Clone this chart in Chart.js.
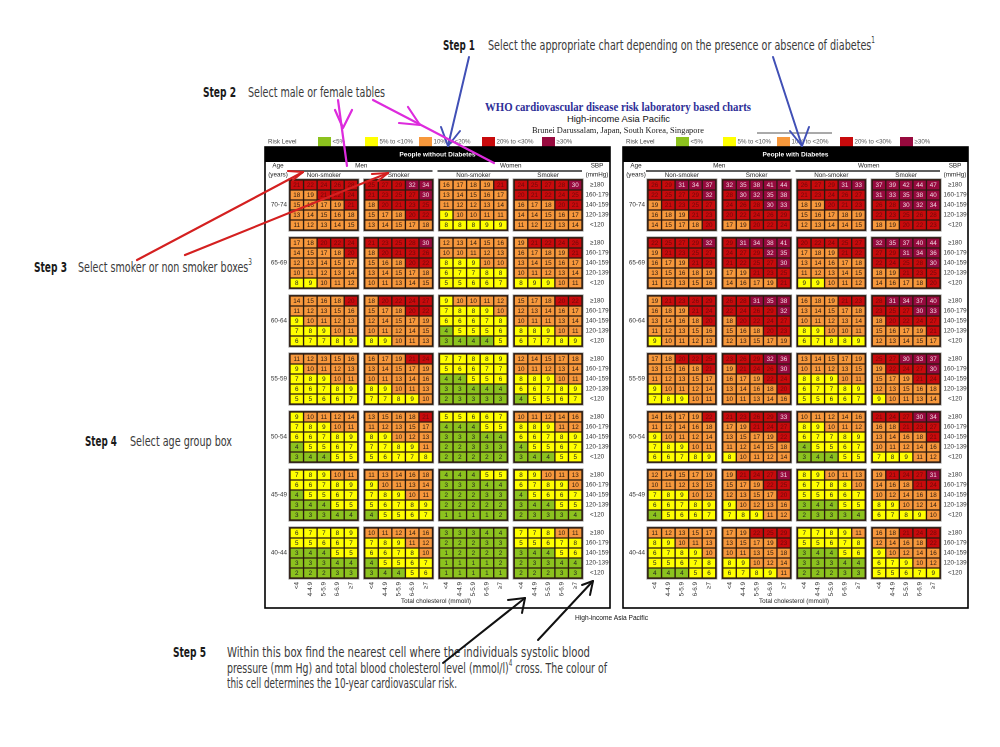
<!DOCTYPE html>
<html><head><meta charset="utf-8">
<script src="https://cdn.jsdelivr.net/npm/chart.js@4.4.1/dist/chart.umd.min.js"></script>
<style>
html,body{margin:0;padding:0;background:#fff;width:1000px;height:747px;overflow:hidden;position:relative}
canvas.panel{position:absolute;top:133px}
#c1{left:260px}
#c2{left:618px}
.t{position:absolute;white-space:nowrap;transform-origin:0 50%;color:#333}
.t sup{font-size:60%;vertical-align:top;line-height:1}
svg{position:absolute;left:0;top:0}
</style></head><body>
<canvas id="c1" class="panel" width="356" height="482"></canvas>
<canvas id="c2" class="panel" width="356" height="482"></canvas>
<div id="notes"></div>
<svg id="arrows" width="1000" height="747"></svg>
<script>
// ---------- categories / labels ----------
const ageGroups = ["70-74","65-69","60-64","55-59","50-54","45-49","40-44"];
const sbpLabels = ["≥180","160-179","140-159","120-139","<120"];
const cholLabels = ["<4","4-4.9","5-5.9","6-6.9","≥7"];
const groupNames = ["Non-smoker","Smoker","Non-smoker","Smoker"];
const sexNames = ["Men","Women"];
const riskLabels = ["<5%","5% to <10%","10% to <20%","20% to <30%","≥30%"];
const riskColors = ["#8cc21e","#ffff00","#f7983c","#c80a0c","#970a3e"];
const riskText = ["#222","#222","#2a1a10","#6e0a0a","#f2dce6"];

// ---------- People without diabetes (10-year risk %) ----------
// each: age groups (70-74 ... 40-44), rows SBP ≥180 ... <120, cols cholesterol <4 ... ≥7
const noDiabMenNonSmoker = [
 [[21,22,24,26,28],[18,19,21,22,24],[15,16,17,19,21],[13,14,15,16,18],[11,12,13,14,15]],
 [[17,18,20,22,24],[14,15,17,18,20],[12,13,14,15,17],[10,11,12,13,14],[8,9,10,11,12]],
 [[14,15,16,18,20],[11,12,13,15,16],[9,10,11,12,13],[7,8,9,10,11],[6,7,7,8,9]],
 [[11,12,13,15,16],[9,10,11,12,13],[7,8,9,10,11],[6,6,7,8,9],[5,5,6,6,7]],
 [[9,10,11,12,14],[7,8,9,10,11],[6,6,7,8,9],[4,5,5,6,7],[3,4,4,5,5]],
 [[7,8,9,10,11],[6,6,7,8,9],[4,5,5,6,7],[3,4,4,5,5],[3,3,3,4,4]],
 [[6,7,7,8,9],[5,5,6,6,7],[3,4,4,5,5],[3,3,3,4,4],[2,2,2,3,3]]
];
const noDiabMenSmoker = [
 [[25,27,29,32,34],[21,23,25,27,30],[18,20,21,23,25],[15,17,18,20,22],[13,14,15,17,18]],
 [[21,23,25,28,30],[18,20,21,23,26],[15,16,18,20,22],[13,14,15,17,18],[10,11,13,14,15]],
 [[18,20,22,24,27],[15,17,18,20,22],[12,14,15,17,19],[10,11,12,14,15],[8,9,10,11,13]],
 [[16,17,19,21,24],[13,14,15,17,19],[10,11,13,14,16],[8,9,10,11,13],[7,7,8,9,10]],
 [[13,15,16,18,21],[11,12,13,15,17],[8,9,10,12,13],[7,7,8,9,11],[5,6,7,7,8]],
 [[11,13,14,16,18],[9,10,11,13,14],[7,8,9,10,11],[5,6,7,8,9],[4,5,5,6,7]],
 [[10,11,12,14,16],[7,8,9,11,12],[6,6,7,8,10],[4,5,5,6,7],[3,4,4,5,6]]
];
const noDiabWomenNonSmoker = [
 [[16,17,18,19,21],[13,14,15,16,17],[11,12,12,13,14],[9,10,10,11,11],[8,8,8,9,9]],
 [[12,13,14,15,16],[10,10,11,12,13],[8,8,9,10,10],[6,7,7,8,8],[5,5,6,6,7]],
 [[9,10,10,11,12],[7,8,8,9,10],[6,6,6,7,8],[4,5,5,5,6],[3,4,4,4,5]],
 [[7,7,8,8,9],[5,6,6,7,7],[4,4,5,5,6],[3,3,4,4,4],[2,3,3,3,3]],
 [[5,5,6,6,7],[4,4,4,5,5],[3,3,3,4,4],[2,2,3,3,3],[2,2,2,2,2]],
 [[4,4,4,5,5],[3,3,3,4,4],[2,2,2,3,3],[2,2,2,2,2],[1,1,1,1,2]],
 [[3,3,3,4,4],[2,2,2,3,3],[1,2,2,2,2],[1,1,1,1,2],[1,1,1,1,1]]
];
const noDiabWomenSmoker = [
 [[24,25,27,28,30],[20,21,22,24,25],[16,17,18,20,21],[14,14,15,16,17],[11,12,12,13,14]],
 [[19,21,22,24,26],[16,17,18,19,21],[13,14,15,16,17],[10,11,12,13,14],[8,9,9,10,11]],
 [[15,17,18,20,22],[12,13,14,16,17],[10,11,11,13,14],[8,8,9,10,11],[6,7,7,8,9]],
 [[12,14,15,17,18],[10,11,12,13,14],[8,8,9,10,11],[6,6,7,8,9],[4,5,5,6,7]],
 [[10,11,12,14,16],[8,8,9,11,12],[6,6,7,8,9],[4,5,5,6,7],[3,4,4,5,5]],
 [[8,9,10,11,13],[6,7,8,9,10],[4,5,6,6,7],[3,4,4,5,5],[2,3,3,3,4]],
 [[7,7,8,10,11],[5,5,6,7,8],[3,4,4,5,6],[2,3,3,4,4],[2,2,2,3,3]]
];

// ---------- People with diabetes ----------
const diabMenNonSmoker = [
 [[26,29,31,34,37],[22,25,27,29,32],[19,21,23,25,27],[16,18,19,21,23],[14,15,17,18,20]],
 [[22,25,27,29,32],[19,21,23,25,27],[16,17,19,21,23],[13,15,16,18,19],[11,12,13,15,16]],
 [[19,21,23,26,29],[16,18,19,21,24],[13,14,16,18,20],[11,12,13,15,16],[9,10,11,12,13]],
 [[17,18,20,22,25],[13,15,16,18,21],[11,12,13,15,17],[9,10,11,12,14],[7,8,9,10,11]],
 [[14,16,17,19,22],[11,12,14,16,18],[9,10,11,12,14],[7,8,9,10,11],[6,6,7,8,9]],
 [[12,14,15,17,19],[10,11,12,13,15],[7,8,9,10,12],[6,6,7,8,9],[4,5,6,6,7]],
 [[11,12,13,15,17],[8,9,10,11,13],[6,7,8,9,10],[5,5,6,7,8],[4,4,4,5,6]]
];
const diabMenSmoker = [
 [[32,35,38,41,44],[28,30,32,35,38],[24,26,28,30,33],[20,22,24,26,29],[17,19,20,22,24]],
 [[29,31,34,38,41],[24,27,29,32,35],[21,22,25,27,30],[17,19,21,23,25],[14,16,17,19,21]],
 [[26,28,31,35,38],[22,24,26,29,32],[18,20,22,24,27],[15,16,18,20,23],[12,13,15,17,19]],
 [[23,26,29,32,36],[19,21,24,26,30],[16,17,19,22,24],[13,14,16,18,20],[10,11,13,14,16]],
 [[21,23,26,29,33],[17,19,21,24,27],[13,15,17,19,22],[11,12,14,15,18],[8,10,11,12,14]],
 [[19,21,24,27,31],[15,17,19,22,25],[12,13,15,17,20],[9,10,12,13,16],[7,8,9,11,12]],
 [[17,19,22,25,29],[13,15,17,19,23],[10,11,13,15,18],[8,9,10,12,14],[6,7,8,9,11]]
];
const diabWomenNonSmoker = [
 [[26,27,29,31,33],[21,23,24,26,27],[18,19,20,21,23],[15,16,17,18,19],[12,13,14,14,15]],
 [[20,22,24,25,27],[17,18,19,21,22],[13,14,16,17,18],[11,12,13,14,15],[9,9,10,11,12]],
 [[16,18,19,21,23],[13,14,15,17,18],[10,11,12,13,14],[8,9,10,10,11],[6,7,8,8,9]],
 [[13,14,15,17,19],[10,11,12,13,15],[8,8,9,10,11],[6,7,7,8,9],[5,5,6,6,7]],
 [[10,11,12,14,16],[8,9,10,11,12],[6,7,7,8,9],[4,5,5,6,7],[3,4,4,5,5]],
 [[8,9,10,11,13],[6,7,8,8,10],[5,5,6,6,7],[3,4,4,5,5],[2,3,3,3,4]],
 [[7,7,8,9,11],[5,5,6,7,8],[3,4,4,5,6],[3,3,3,4,4],[2,2,2,3,3]]
];
const diabWomenSmoker = [
 [[37,39,42,44,47],[31,33,35,38,40],[26,28,30,32,34],[22,23,25,26,28],[18,19,20,22,23]],
 [[32,35,37,40,44],[27,29,31,34,36],[22,24,25,28,30],[18,19,21,23,25],[14,16,17,18,20]],
 [[28,31,34,37,40],[23,25,27,30,33],[18,20,22,24,27],[15,16,17,19,21],[12,13,14,15,17]],
 [[25,27,30,33,37],[19,22,24,27,30],[15,17,19,21,24],[12,13,15,16,18],[9,10,11,13,14]],
 [[21,24,27,30,34],[16,18,21,23,27],[13,14,16,18,21],[10,11,12,14,16],[7,8,9,11,12]],
 [[19,21,24,27,31],[14,16,18,21,24],[10,12,14,16,18],[8,9,10,12,14],[6,7,8,9,10]],
 [[16,18,21,24,28],[12,14,16,18,22],[9,10,12,14,16],[6,7,9,10,12],[5,5,6,7,9]]
];

// ---------- layout constants (scale units) ----------
const G = 75/13.6;   // pitch between column groups, in cell widths
const A = 5.8;       // pitch between age blocks, in cell heights
const FONT = '"Liberation Sans", Arial, Helvetica, sans-serif';

function riskIndex(v){ return v<5?0:v<10?1:v<20?2:v<30?3:4; }

function buildCells(series){
  const out=[];
  series.forEach((grid,g)=>grid.forEach((block,a)=>block.forEach((row,r)=>row.forEach((v,c)=>{
    out.push({x:g*G+c+0.5, y:[a*A+r, a*A+r+1], v:v});
  }))));
  return out;
}

const panelPlugin = {
  id:'panelDeco',
  beforeDraw(chart, args, opts){
    const ctx=chart.ctx, ca=chart.chartArea, xs=chart.scales.x;
    const L=ca.left-25, R=ca.right+28, T=ca.top-33, B=ca.bottom+30;
    ctx.save();
    ctx.fillStyle='#fff'; ctx.fillRect(0,0,chart.width,chart.height);
    // risk legend
    ctx.font='6.2px '+FONT; ctx.textBaseline='middle'; ctx.textAlign='left';
    ctx.fillStyle='#444'; ctx.fillText('Risk Level', L+3, T-5);
    const bx=[53,100,154,217,277];
    riskLabels.forEach((lab,i)=>{
      ctx.fillStyle=riskColors[i]; ctx.fillRect(L+bx[i], T-10, 13, 9.5);
      ctx.fillStyle='#555'; ctx.fillText(lab, L+bx[i]+14.5, T-5);
    });
    // black title bar
    ctx.fillStyle='#000'; ctx.fillRect(L, T, R-L, 15);
    ctx.fillStyle='#fff'; ctx.font='bold 6.6px '+FONT; ctx.textAlign='center';
    ctx.fillText(opts.title, (L+R)/2, T+7.8);
    // headers
    ctx.fillStyle='#222'; ctx.font='6.3px '+FONT;
    ctx.fillText('Age', L+13, T+19); ctx.fillText('(years)', L+13, T+28);
    ctx.fillText('SBP', ca.right+15, T+19); ctx.fillText('(mmHg)', ca.right+15, T+28);
    ctx.strokeStyle='#000'; ctx.lineWidth=1.3;
    for(let s=0;s<2;s++){
      const gl=xs.getPixelForValue(2*s*G), gr=xs.getPixelForValue((2*s+1)*G+5);
      ctx.fillText(sexNames[s], (gl+gr)/2, T+19);
      ctx.beginPath(); ctx.moveTo(gl-2, T+24); ctx.lineTo(gr, T+24); ctx.stroke();
    }
    groupNames.forEach((n,g)=>{
      ctx.fillText(n, xs.getPixelForValue(g*G+2.5), T+28.5);
    });
    // panel border
    ctx.lineWidth=1.6; ctx.strokeRect(L, T, R-L, B-T);
    ctx.restore();
  },
  beforeDatasetsDraw(chart){
    const ctx=chart.ctx, xs=chart.scales.x, ys=chart.scales.y;
    ctx.save();
    for(let g=0; g<4; g++) for(let a=0; a<ageGroups.length; a++){
      const x0=xs.getPixelForValue(g*G), x1=xs.getPixelForValue(g*G+5);
      const y0=ys.getPixelForValue(a*A), y1=ys.getPixelForValue(a*A+5);
      ctx.fillStyle='#a0a0a0'; ctx.fillRect(x0-1.6,y0-1.6,x1-x0+3.2,y1-y0+3.2);
      ctx.fillStyle='#2b1a10'; ctx.fillRect(x0-0.9,y0-0.9,x1-x0+1.8,y1-y0+1.8);
    }
    ctx.restore();
  },
  afterDatasetsDraw(chart){
    const ctx=chart.ctx, meta=chart.getDatasetMeta(0), data=chart.data.datasets[0].data;
    ctx.save();
    ctx.font='6.3px '+FONT; ctx.textAlign='center'; ctx.textBaseline='middle';
    meta.data.forEach((el,i)=>{
      const v=data[i].v;
      ctx.fillStyle=riskText[riskIndex(v)];
      ctx.fillText(String(v), el.x, (el.y+el.base)/2+0.3);
    });
    ctx.restore();
  }
};

function makePanel(id, title, series){
  const cells=buildCells(series);
  const colTicks=[], rowTicks=[], ageTicks=[];
  for(let g=0;g<4;g++) for(let c=0;c<5;c++) colTicks.push(g*G+c+0.5);
  ageGroups.forEach((_,a)=>{ ageTicks.push(a*A+2.5); for(let r=0;r<5;r++) rowTicks.push(a*A+r+0.5); });
  const tickFont={family:FONT, size:6.3};
  return new Chart(document.getElementById(id), {
    type:'bar',
    data:{datasets:[{
      data:cells,
      backgroundColor:c=>riskColors[riskIndex(c.raw.v)],
      borderColor:'#2b1a10', borderWidth:1, borderSkipped:false,
      barPercentage:1, categoryPercentage:1
    }]},
    options:{
      responsive:false, animation:false, devicePixelRatio:2,
      layout:{padding:{top:47,left:0,right:0,bottom:0}},
      plugins:{legend:{display:false}, tooltip:{enabled:false}, panelDeco:{title:title}},
      scales:{
        x:{type:'linear', min:0, max:3*G+5, offset:false,
           grid:{display:false, drawTicks:false}, border:{display:false},
           afterBuildTicks:s=>{ s.ticks=colTicks.map(v=>({value:v})); },
           afterFit:s=>{ s.height=37; },
           ticks:{autoSkip:false, minRotation:90, maxRotation:90, padding:4, color:'#333', font:tickFont,
                  callback:(v,i)=>cholLabels[i%5]},
           title:{display:true, text:'Total cholesterol (mmol/l)', color:'#222', font:tickFont, padding:{top:0,bottom:10}}},
        y:{type:'linear', position:'left', reverse:true, min:0, max:(ageGroups.length-1)*A+5,
           grid:{display:false, drawTicks:false}, border:{display:false},
           afterBuildTicks:s=>{ s.ticks=ageTicks.map(v=>({value:v})); },
           afterFit:s=>{ s.width=30; },
           ticks:{autoSkip:false, padding:3, color:'#333', font:tickFont, callback:(v,i)=>ageGroups[i]}},
        y2:{type:'linear', position:'right', reverse:true, min:0, max:(ageGroups.length-1)*A+5,
           grid:{display:false, drawTicks:false}, border:{display:false},
           afterBuildTicks:s=>{ s.ticks=rowTicks.map(v=>({value:v})); },
           afterFit:s=>{ s.width=34; },
           ticks:{autoSkip:false, padding:3.5, crossAlign:'center', color:'#333', font:tickFont, callback:(v,i)=>sbpLabels[i%5]}}
      }
    },
    plugins:[panelPlugin]
  });
}

makePanel('c1','People without Diabetes',[noDiabMenNonSmoker,noDiabMenSmoker,noDiabWomenNonSmoker,noDiabWomenSmoker]);
makePanel('c2','People with Diabetes',[diabMenNonSmoker,diabMenSmoker,diabWomenNonSmoker,diabWomenSmoker]);

// ---------- annotation texts ----------
const STEPF='"Liberation Sans Narrow","DejaVu Sans Condensed","Liberation Sans",sans-serif';
const SERIF='"Liberation Serif","DejaVu Serif",serif';
const notes=[
 {h:'Step 1', x:443, y:45, w:32, f:STEPF, s:14, b:1, c:'#1a1a1a'},
 {h:'Select the appropriate chart depending on the presence or absence of diabetes<sup>1</sup>', x:488, y:45, w:387, f:STEPF, s:14, c:'#3a3a3a'},
 {h:'Step 2', x:203, y:92, w:33, f:STEPF, s:14, b:1, c:'#1a1a1a'},
 {h:'Select male or female tables', x:248, y:92, w:137, f:STEPF, s:14, c:'#3a3a3a'},
 {h:'Step 3', x:34, y:267, w:33, f:STEPF, s:14, b:1, c:'#1a1a1a'},
 {h:'Select smoker or non smoker boxes<sup>3</sup>', x:78, y:267, w:174, f:STEPF, s:14, c:'#3a3a3a'},
 {h:'Step 4', x:85, y:441, w:32, f:STEPF, s:14, b:1, c:'#1a1a1a'},
 {h:'Select age group box', x:130, y:441, w:102, f:STEPF, s:14, c:'#3a3a3a'},
 {h:'Step 5', x:173, y:652, w:33, f:STEPF, s:14, b:1, c:'#1a1a1a'},
 {h:'Within this box find the nearest cell where the individuals systolic blood', x:227, y:652, w:363, f:STEPF, s:14, c:'#3a3a3a'},
 {h:'pressure (mm Hg) and total blood cholesterol level (mmol/l)<sup>4</sup> cross. The colour of', x:227, y:668, w:380, f:STEPF, s:14, c:'#3a3a3a'},
 {h:'this cell determines the 10-year cardiovascular risk.', x:227, y:683, w:230, f:STEPF, s:14, c:'#3a3a3a'},
 {h:'WHO cardiovascular disease risk laboratory based charts', x:485, y:107, w:266, f:SERIF, s:11.5, b:1, c:'#2e2f98'},
 {h:'High-income Asia Pacific', x:567, y:119, w:103, f:FONT, s:9.5, c:'#111'},
 {h:'Brunei Darussalam, Japan, South Korea, Singapore', x:532, y:130, w:172, f:SERIF, s:8.5, c:'#222'},
 {h:'High-income Asia Pacific', x:575, y:618, w:73, f:FONT, s:6.6, c:'#111'}
];
const holder=document.getElementById('notes');
notes.forEach(n=>{
  const d=document.createElement('div');
  d.className='t'; d.innerHTML=n.h;
  const lh=Math.round(n.s*1.25);
  d.style.cssText='left:'+n.x+'px;top:'+(n.y-lh/2)+'px;font-family:'+n.f+';font-size:'+n.s+'px;line-height:'+lh+'px;height:'+lh+'px;color:'+n.c+';font-weight:'+(n.b?'bold':'normal');
  holder.appendChild(d);
  n.el=d;
});
function fitNotes(){
  notes.forEach(n=>{
    n.el.style.transform='none';
    const w=n.el.getBoundingClientRect().width;
    if(w>0) n.el.style.transform='scaleX('+(n.w/w)+')';
  });
}
fitNotes();
if(document.fonts && document.fonts.ready) document.fonts.ready.then(fitNotes);

// ---------- arrows ----------
const arrows=[
 {c:'#4150b6', w:2, line:[[469,57],[448,146]], head:[[441,127],[448,146],[460,131]]},
 {c:'#4150b6', w:2, line:[[773,57],[802,146]], head:[[790,131],[802,146],[809,127]]},
 {c:'#dd2bdd', w:2.2, line:[[338,100],[347,166]], head:[[335,110],[343,128],[352,110]]},
 {c:'#dd2bdd', w:2.2, line:[[373,100],[494,163]], head:[[408,107],[420,125],[399,123]]},
 {c:'#d42020', w:2.2, line:[[137,260],[303,172]], head:[[288,171],[303,172],[293,180]]},
 {c:'#d42020', w:2.2, line:[[185,255],[388,173]], head:[[372,174],[388,173],[378,181]]},
 {c:'#111', w:2, line:[[443,663],[525,598]], head:[[508,600],[525,598],[522,613]]},
 {c:'#111', w:2, line:[[538,640],[593,581]], head:[[582,585],[593,581],[590,595]]}
];
const svg=document.getElementById('arrows');
let sv='<line x1="757" y1="133" x2="832" y2="133" stroke="#555" stroke-width="1"/>';
arrows.forEach(a=>{
  sv+='<line x1="'+a.line[0][0]+'" y1="'+a.line[0][1]+'" x2="'+a.line[1][0]+'" y2="'+a.line[1][1]+'" stroke="'+a.c+'" stroke-width="'+a.w+'" stroke-linecap="round"/>';
  sv+='<polyline points="'+a.head.map(p=>p.join(',')).join(' ')+'" fill="none" stroke="'+a.c+'" stroke-width="'+a.w+'" stroke-linecap="round" stroke-linejoin="round"/>';
});
svg.innerHTML=sv;
</script>
</body></html>
